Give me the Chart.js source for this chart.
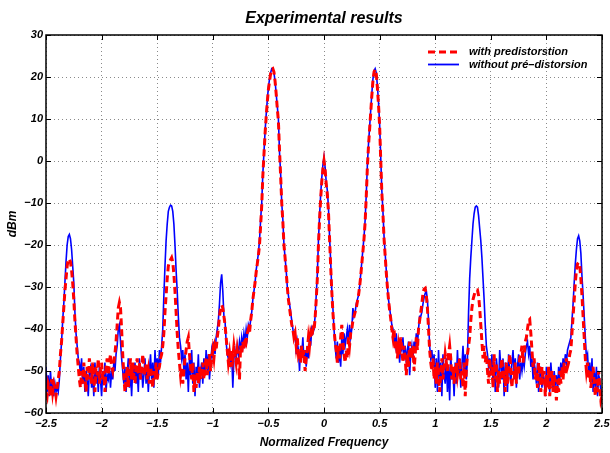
<!DOCTYPE html>
<html>
<head>
<meta charset="utf-8">
<title>Experimental results</title>
<script src="https://cdn.jsdelivr.net/npm/chart.js@4.4.1/dist/chart.umd.min.js"></script>
<style>
    html, body { margin: 0; padding: 0; background: #fff; }
    #wrap { width: 610px; height: 453px; }
</style>
</head>
<body>
<div id="wrap"><canvas id="spectrumChart"></canvas></div>
<script>
// Frequency grid of the measurement: -2.5 .. 2.5, one point every 0.01
const freqStart = -2.5;
const freqStep = 0.01;
const freqCount = 501;

// Axis ticks
const xTickValues = [-2.5, -2, -1.5, -1, -0.5, 0, 0.5, 1, 1.5, 2, 2.5];
const yTickValues = [-60, -50, -40, -30, -20, -10, 0, 10, 20, 30];

const withPredistortion = [
    -55, -56, -53, -54, -56, -52, -55, -53, -54, -56,          // -2.5
    -54, -52, -50, -46, -43, -39, -35, -31, -28, -25,          // -2.4
    -23.5, -23.3, -24, -26, -29, -33, -38, -42, -46, -49,      // -2.3
    -52, -54, -50, -53, -48, -51, -55, -49, -52, -47,          // -2.2
    -50, -53, -48, -52, -55, -49, -51, -47, -53, -50,          // -2.1
    -48, -52, -50, -55, -49, -47, -51, -48, -46, -49,          // -2.0
    -50, -48, -46, -43, -39, -35, -33.7, -35, -40, -46,        // -1.9
    -51, -55, -52, -49, -54, -50, -47, -52, -48, -51,          // -1.8
    -53, -49, -47, -51, -48, -52, -50, -46, -49, -51,          // -1.7
    -48, -52, -50, -53, -49, -51, -54, -50, -52, -48,          // -1.6
    -52, -50, -49, -47, -46, -44, -41, -36, -32, -28,          // -1.5
    -25, -24, -23.5, -23, -24, -27, -31, -36, -41, -45,        // -1.4
    -48, -51, -49, -53, -50, -47, -45, -43, -42, -46,          // -1.3
    -49, -52, -48, -55, -51, -54, -50, -53, -49, -52,          // -1.2
    -50, -48, -52, -49, -47, -51, -48, -46, -50, -47,          // -1.1
    -45, -47, -44, -45, -42, -40, -37, -35, -34.3, -35,        // -1.0
    -37, -39, -42, -45, -48, -46, -49, -45, -47, -44,          // -0.9
    -46, -48, -45, -47, -52, -44, -46, -43, -45, -42,          // -0.8
    -43, -41, -40, -41, -38, -36, -33, -31, -29, -26.5,        // -0.7
    -24.5, -22.5, -20, -15.5, -10.5, -3.5, 1.5, 6.5, 10.5, 14, // -0.6
    17, 19, 20.8, 21.8, 22, 21.2, 19, 16, 12.5, 9.5,           // -0.5
    2.5, -3.5, -10, -14.5, -20, -23, -26.5, -30, -33, -35,     // -0.4
    -37, -39, -40, -42, -41, -44, -42, -46, -45, -48,          // -0.3
    -44, -47, -45, -50, -47, -45, -42, -44, -41, -42,          // -0.2
    -40, -40.5, -37.5, -33, -28, -20, -14, -9, -5, -2,         // -0.1
    0, -2, -5.5, -8, -12, -18.5, -25, -31, -36, -40,           // 0.0
    -43, -45, -48, -44, -47, -42, -39, -43, -46, -48,          // 0.1
    -45, -47, -42, -44, -41, -40, -38, -37, -36, -35,          // 0.2
    -33.5, -32, -30, -27.5, -24.5, -21.5, -18.5, -14.5, -8.5, -1.5, // 0.3
    3.5, 7.5, 11.5, 15.5, 19, 21.2, 21.8, 20.8, 17.5, 13.5,    // 0.4
    8.5, 0.5, -7.5, -12.5, -18.5, -22.5, -26.5, -30, -33, -35.5, // 0.5
    -37.5, -40, -42, -40, -45, -43, -47, -44, -46, -42,        // 0.6
    -45, -48, -44, -47, -51, -46, -49, -43, -45, -47,          // 0.7
    -44, -50, -46, -42, -45, -40, -38, -36, -34, -31.5,        // 0.8
    -30.5, -30.3, -32, -35, -40, -45, -48, -50, -47, -52,      // 0.9
    -49, -53, -48, -51, -55, -50, -47, -52, -49, -46,          // 1.0
    -48, -50, -46, -44, -47, -52, -49, -53, -50, -48,          // 1.1
    -51, -49, -47, -52, -50, -54, -48, -56, -50, -46,          // 1.2
    -44, -42, -38, -35, -33, -32, -31, -30.8, -30.7, -32,      // 1.3
    -35, -39, -43, -47, -44, -48, -46, -50, -53, -47,          // 1.4
    -51, -49, -54, -46, -52, -48, -55, -50, -53, -49,          // 1.5
    -47, -52, -50, -55, -48, -53, -51, -46, -49, -54,          // 1.6
    -50, -52, -48, -53, -49, -51, -47, -46, -44, -48,          // 1.7
    -46, -43, -42, -40, -38, -37.7, -41, -45, -49, -47,        // 1.8
    -52, -50, -54, -48, -51, -55, -49, -53, -50, -56,          // 1.9
    -51, -54, -49, -56, -52, -50, -55, -51, -53, -57,          // 2.0
    -52, -55, -50, -53, -49, -52, -48, -51, -47, -49,          // 2.1
    -48, -46, -45, -41, -37, -33, -29, -26, -24.5, -24.2,      // 2.2
    -25, -28, -32, -37, -42, -47, -50, -48, -52, -50,          // 2.3
    -54, -51, -49, -53, -56, -52, -55, -50, -54, -57,          // 2.4
    -56                                                        // 2.5
];

const withoutPredistortion = [
    -49, -55, -51, -56, -50, -54, -52, -56, -53, -55,          // -2.5
    -54, -55, -52, -47, -43, -38, -34, -29, -24, -20,          // -2.4
    -18, -17.5, -18.5, -21, -25, -29, -36, -41, -44, -47,      // -2.3
    -48, -51, -47, -53, -49, -55, -50, -52, -56, -50,          // -2.2
    -49, -54, -51, -56, -48, -53, -50, -55, -49, -52,          // -2.1
    -56, -50, -53, -48, -55, -51, -52, -49, -54, -50,          // -2.0
    -52, -48, -50, -46, -44, -40, -39, -43, -47, -50,          // -1.9
    -53, -49, -55, -51, -47, -54, -50, -56, -49, -52,          // -1.8
    -48, -53, -50, -55, -47, -52, -49, -54, -51, -47,          // -1.7
    -53, -49, -55, -50, -46, -52, -48, -54, -45, -50,          // -1.6
    -47, -51, -45, -48, -44, -40, -32, -25, -19, -15,          // -1.5
    -12, -11, -10.5, -10.7, -12, -15, -20, -26, -31, -37,      // -1.4
    -42, -44, -47, -45, -50, -46, -52, -48, -55, -47,          // -1.3
    -51, -45, -53, -48, -56, -49, -52, -46, -54, -50,          // -1.2
    -48, -53, -47, -51, -45, -50, -46, -52, -48, -45,          // -1.1
    -47, -43, -46, -42, -40, -38, -34, -29, -27, -31,          // -1.0
    -37, -38, -43, -46, -47, -45, -48, -46, -54, -47,          // -0.9
    -45, -47, -44, -46, -43, -45, -42, -44, -41, -43,          // -0.8
    -40, -42, -39, -40, -38, -36, -33, -31, -29, -26,          // -0.7
    -24, -22, -19, -14, -10, -3, 2, 7, 11, 14.5,               // -0.6
    17.5, 19.5, 21, 22, 22, 21, 19, 16, 13, 10,                // -0.5
    2, -3, -10, -14, -20, -23, -26, -30, -32, -34,             // -0.4
    -36, -38, -40, -42, -41, -46, -43, -45, -50, -44,          // -0.3
    -46, -42, -48, -45, -49, -44, -47, -42, -44, -40,          // -0.2
    -41, -40, -37, -32, -27, -19, -13, -8, -4, -1,             // -0.1
    0.9, -1.5, -5, -7, -11, -18, -24, -30.5, -35, -40,         // 0.0
    -44, -47, -43, -48, -45, -49, -42, -46, -41, -44,          // 0.1
    -42, -40, -43, -39, -42, -40, -35, -37, -36, -34,          // 0.2
    -33, -32, -30, -27, -24, -21, -18, -14, -8, -1,            // 0.3
    4, 8, 12, 16, 19.5, 21.5, 22, 21, 18, 14,                  // 0.4
    9, 1, -7, -12, -18, -22, -26, -30, -33, -35,               // 0.5
    -37, -39, -40, -42, -44, -41, -46, -43, -48, -44,          // 0.6
    -45, -42, -47, -44, -48, -45, -43, -51, -46, -44,          // 0.7
    -47, -43, -45, -41, -44, -40, -37, -37, -36, -34,          // 0.8
    -32.5, -31.5, -31, -33, -38, -44, -47, -45, -49, -46,      // 0.9
    -54, -47, -55, -45, -52, -48, -56, -46, -51, -53,          // 1.0
    -47, -55, -49, -57, -46, -52, -50, -56, -48, -53,          // 1.1
    -45, -51, -47, -54, -49, -44, -50, -46, -52, -47,          // 1.2
    -36, -28, -23, -19, -15, -12.5, -11, -10.7, -11, -13,      // 1.3
    -16, -19, -23, -28, -33, -39, -44, -46, -49, -47,          // 1.4
    -51, -46, -53, -48, -55, -47, -50, -54, -45, -49,          // 1.5
    -52, -47, -56, -48, -51, -55, -46, -50, -53, -48,          // 1.6
    -45, -51, -47, -54, -49, -46, -52, -48, -50, -47,          // 1.7
    -49, -46, -44, -43, -46, -44, -49, -47, -52, -48,          // 1.8
    -50, -53, -48, -55, -51, -49, -54, -50, -52, -56,          // 1.9
    -49, -53, -51, -55, -48, -52, -54, -50, -53, -51,          // 2.0
    -55, -49, -52, -48, -51, -47, -50, -46, -48, -45,          // 2.1
    -44, -43, -42, -38, -34, -29, -24.5, -21, -18.5, -17.8,    // 2.2
    -19, -22, -27.5, -32, -37, -42, -47, -46, -51, -48,        // 2.3
    -53, -47, -55, -50, -54, -49, -56, -51, -52, -55,          // 2.4
    -56                                                        // 2.5
];

const freqLabels = Array.from({ length: freqCount }, (_, i) => +(freqStart + i * freqStep).toFixed(2));

// MATLAB-style labels use a real minus sign
function formatTick(value) {
    return String(value).replace('-', '\u2212');
}

Chart.defaults.font.family = "'Liberation Sans', Arial, sans-serif";
Chart.defaults.font.style = 'italic';
Chart.defaults.font.weight = 'bold';
Chart.defaults.color = '#000';

// Box around the axes, inward tick marks and the legend inside the plot
const frameAndLegend = {
    id: 'frameAndLegend',
    afterDraw(chart) {
        const { ctx, chartArea: a, scales } = chart;
        ctx.save();

        ctx.strokeStyle = '#000';
        ctx.lineWidth = 1;
        ctx.beginPath();
        xTickValues.forEach(v => {
            const px = Math.round(scales.x.getPixelForValue(v)) + 0.5;
            ctx.moveTo(px, a.bottom); ctx.lineTo(px, a.bottom - 5);
            ctx.moveTo(px, a.top); ctx.lineTo(px, a.top + 5);
        });
        yTickValues.forEach(v => {
            const py = Math.round(scales.y.getPixelForValue(v)) + 0.5;
            ctx.moveTo(a.left, py); ctx.lineTo(a.left + 5, py);
            ctx.moveTo(a.right, py); ctx.lineTo(a.right - 5, py);
        });
        ctx.stroke();

        ctx.lineWidth = 1.5;
        ctx.strokeRect(a.left, a.top, a.right - a.left, a.bottom - a.top);

        // legend
        const rows = [
            { text: 'with predistorstion', color: '#ff0000', dash: [7, 4], width: 3, y: 52 },
            { text: 'without pré\u2013distorsion', color: '#0000ff', dash: [], width: 1.8, y: 64.5 }
        ];
        ctx.font = "italic bold 11px 'Liberation Sans', Arial, sans-serif";
        ctx.textBaseline = 'middle';
        ctx.textAlign = 'left';
        rows.forEach(r => {
            ctx.beginPath();
            ctx.setLineDash(r.dash);
            ctx.strokeStyle = r.color;
            ctx.lineWidth = r.width;
            ctx.moveTo(428, r.y);
            ctx.lineTo(459, r.y);
            ctx.stroke();
            ctx.setLineDash([]);
            ctx.fillStyle = '#000';
            ctx.fillText(r.text, 469, r.y);
        });

        ctx.restore();
    }
};

const spectrumCtx = document.getElementById('spectrumChart').getContext('2d');
window.spectrumChart = new Chart(spectrumCtx, {
    type: 'line',
    data: {
        labels: freqLabels,
        datasets: [{
            label: 'with predistorstion',
            data: withPredistortion,
            borderColor: '#ff0000',
            borderWidth: 3,
            borderDash: [7, 4],
            pointRadius: 0,
            tension: 0,
            fill: false
        }, {
            label: 'without pré\u2013distorsion',
            data: withoutPredistortion,
            borderColor: '#0000ff',
            borderWidth: 1.6,
            pointRadius: 0,
            tension: 0,
            fill: false
        }]
    },
    options: {
        responsive: true,
        maintainAspectRatio: false,
        animation: false,
        layout: { padding: { right: 8 } },
        plugins: {
            legend: { display: false },
            tooltip: { enabled: false },
            title: {
                display: true,
                text: 'Experimental results',
                fullSize: false,
                color: '#000',
                font: { size: 16, weight: 'bold', style: 'italic' },
                padding: { top: 9, bottom: 6.8 }
            }
        },
        scales: {
            x: {
                type: 'linear',
                min: -2.5,
                max: 2.5,
                afterBuildTicks: scale => { scale.ticks = xTickValues.map(v => ({ value: v })); },
                afterFit: scale => { scale.height = 40; scale.paddingLeft = 0; scale.paddingRight = 0; },
                ticks: { callback: formatTick, padding: 4, maxRotation: 0, autoSkip: false, font: { size: 11 } },
                grid: { color: '#8a8a8a', drawTicks: false },
                border: { display: false, dash: [1, 3] },
                title: { display: true, text: 'Normalized Frequency', font: { size: 12 }, padding: { top: 0, bottom: 3 } }
            },
            y: {
                min: -60,
                max: 30,
                afterBuildTicks: scale => { scale.ticks = yTickValues.map(v => ({ value: v })); },
                afterFit: scale => { scale.width = 46; scale.paddingTop = 0; scale.paddingBottom = 0; },
                ticks: { callback: formatTick, padding: 3, font: { size: 11 } },
                grid: { color: '#8a8a8a', drawTicks: false },
                border: { display: false, dash: [1, 3] },
                title: { display: true, text: 'dBm', font: { size: 12 }, padding: { top: 5, bottom: 0 } }
            }
        }
    },
    plugins: [frameAndLegend]
});
</script>
</body>
</html>
